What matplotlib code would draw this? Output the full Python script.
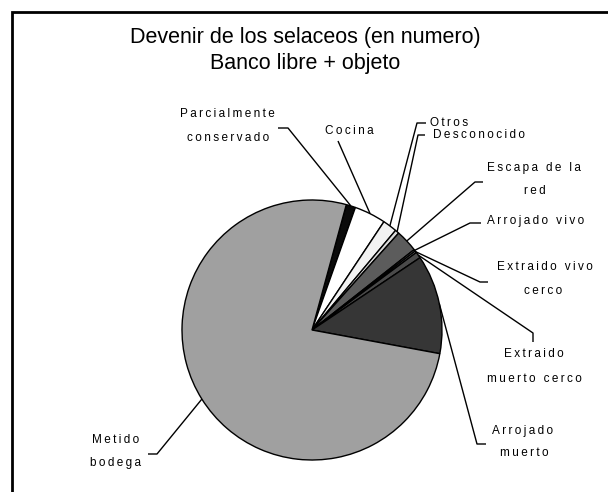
import matplotlib
matplotlib.use("Agg")
import matplotlib.pyplot as plt
import numpy as np
from matplotlib.patches import Rectangle

plt.rcParams['font.family'] = ['Liberation Sans', 'DejaVu Sans']

# ---- data (values proportional to slice size) ----
categories = ["Parcialmente conservado", "Cocina", "Otros", "Desconocido",
              "Escapa de la red", "Arrojado vivo", "Extraido vivo cerco",
              "Extraido muerto cerco", "Arrojado muerto", "Metido bodega"]
values = [42, 141, 64, 18, 100, 8, 8, 28, 443, 2748]
colors = ["#0a0a0a", "#ffffff", "#f2f2f2", "#dcdcdc", "#5c5c5c",
          "#808080", "#b0b0b0", "#4a4a4a", "#363636", "#a0a0a0"]
label_lines = [["Parcialmente", "conservado"], ["Cocina"], ["Otros"], ["Desconocido"],
               ["Escapa de la", "red"], ["Arrojado vivo"], ["Extraido vivo", "cerco"],
               ["Extraido", "muerto cerco"], ["Arrojado", "muerto"], ["Metido", "bodega"]]

W, H = 608, 492
fig = plt.figure(figsize=(W / 100, H / 100), dpi=100)
ax = fig.add_axes([0, 0, 1, 1])

cx, cy, R = 312, H - 330, 130
wedges, _ = ax.pie(values, colors=colors, startangle=90 - 15.3, counterclock=False,
                   center=(cx, cy), radius=R,
                   wedgeprops=dict(edgecolor="black", linewidth=1.0))
ax.set_xlim(0, W)
ax.set_ylim(0, H)
ax.set_aspect("equal")
ax.axis("off")

# frame
ax.add_patch(Rectangle((11.5, -20), 800, H - 12 + 20, fill=False, edgecolor="black",
                       linewidth=2, clip_on=False))

# title
ax.text(305, H - 38, "Devenir de los selaceos (en numero)", ha="center", va="center", fontsize=15.5)
ax.text(305, H - 64, "Banco libre + objeto", ha="center", va="center", fontsize=15.5)

def spaced(s):
    return "\u2009".join(list(s))

# label layout: (line centres (x, y_top_down), hook points (top-down))
layout = [
    ([(227, 114), (228, 138)], [(278, 128), (288, 128)]),
    ([(349, 131)], [(338, 141)]),
    ([(449, 123)], [(426, 123), (417, 123)]),
    ([(479, 135)], [(425, 135), (418, 135)]),
    ([(534, 168), (535, 191)], [(483, 182), (475, 182)]),
    ([(536, 221)], [(481, 223), (470, 223)]),
    ([(545, 267), (543, 291)], [(488, 282), (480, 282)]),
    ([(534, 354), (534, 379)], [(533, 342), (533, 333)]),
    ([(523, 431), (524, 453)], [(486, 444), (477, 444)]),
    ([(116, 440), (115, 463)], [(148, 454), (157, 454)]),
]

for w, lines, (pos, hook) in zip(wedges, label_lines, layout):
    for (tx, ty), line in zip(pos, lines):
        ax.text(tx, H - ty, spaced(line), ha="center", va="center", fontsize=8.5)
    mid = np.deg2rad((w.theta1 + w.theta2) / 2)
    px, py = cx + R * np.cos(mid), cy + R * np.sin(mid)
    xs = [p[0] for p in hook] + [px]
    ys = [H - p[1] for p in hook] + [py]
    ax.plot(xs, ys, color="black", linewidth=1.0, solid_capstyle="butt")

fig.savefig("out.png", dpi=100, facecolor="white")
